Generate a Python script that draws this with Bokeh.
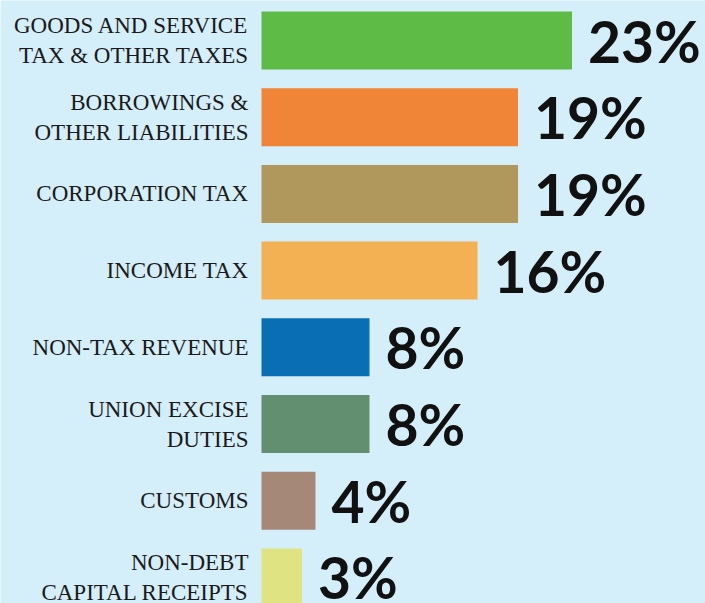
from bokeh.plotting import figure
from bokeh.models import Range1d, ColumnDataSource
from bokeh.core.properties import value
from bokeh.embed import file_html
from bokeh.resources import INLINE

categories = [
    "GOODS AND SERVICE\nTAX & OTHER TAXES",
    "BORROWINGS &\nOTHER LIABILITIES",
    "CORPORATION TAX",
    "INCOME TAX",
    "NON-TAX REVENUE",
    "UNION EXCISE\nDUTIES",
    "CUSTOMS",
    "NON-DEBT\nCAPITAL RECEIPTS",
]
shares = [23, 19, 19, 16, 8, 8, 4, 3]
value_labels = ["23%", "19%", "19%", "16%", "8%", "8%", "4%", "3%"]
colors = ["#5dbb46", "#f08537", "#b0975c", "#f3b153", "#0a6eb4", "#628f70", "#a58878", "#e0e382"]

BG = "#d4eefa"
W, H = 705, 603
PX_PER_UNIT = 13.5
LEFT_PX = 261
ROW_PX = 76.7
FIRST_PX = 40

x0 = -LEFT_PX / PX_PER_UNIT
x1 = (W - LEFT_PX) / PX_PER_UNIT
y_top = -FIRST_PX / ROW_PX
y_bot = (H - FIRST_PX) / ROW_PX

src = ColumnDataSource(dict(
    y=list(range(len(categories))),
    share=shares,
    cat=categories,
    lab=value_labels,
    color=colors,
    zero=[0] * len(categories),
))

p = figure(width=W, height=H, output_backend="svg", toolbar_location=None,
           x_range=Range1d(x0, x1), y_range=Range1d(y_bot, y_top),
           min_border=0, min_border_left=0, min_border_right=0,
           min_border_top=0, min_border_bottom=0)
p.axis.visible = False
p.grid.visible = False
p.outline_line_color = None
p.background_fill_color = BG
p.border_fill_color = BG

p.hbar(y="y", left="zero", right="share", height=58 / ROW_PX, color="color",
       line_color=None, source=src)

p.text(x="zero", y="y", text="cat", source=src, x_offset=-13,
       text_align="right", text_baseline="middle",
       text_font=value("Liberation Serif"), text_font_size="23px",
       text_color="#1a1a1a", text_line_height=1.2)

p.text(x="share", y="y", text="lab", source=src, x_offset=16,
       text_align="left", text_baseline="middle",
       text_font=value("Lato"), text_font_style="bold", text_font_size="57px",
       text_color="#111111")

open("out.html", "w").write(file_html(p, INLINE))
